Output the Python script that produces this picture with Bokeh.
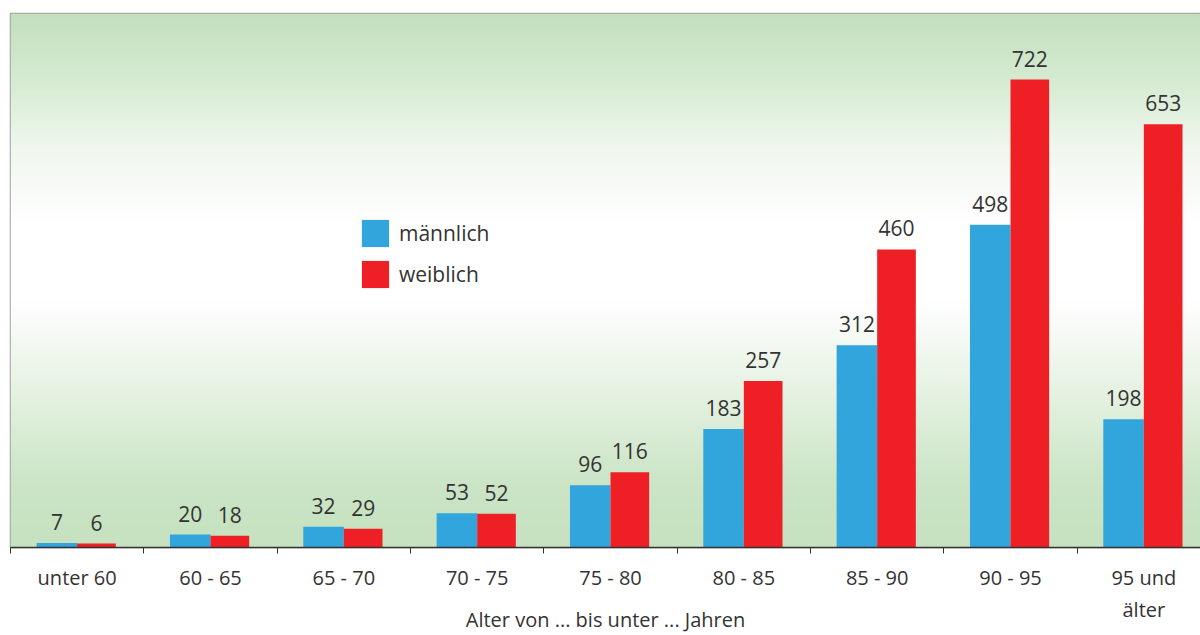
import numpy as np
from bokeh.plotting import figure
from bokeh.models import ColumnDataSource, Range1d, FixedTicker, Legend, LegendItem
from bokeh.core.properties import value
from bokeh.embed import file_html
from bokeh.resources import INLINE

categories = ["unter 60", "60 - 65", "65 - 70", "70 - 75", "75 - 80", "80 - 85", "85 - 90", "90 - 95", "95 und\nälter"]
maennlich = [7, 20, 32, 53, 96, 183, 312, 498, 198]
weiblich = [6, 18, 29, 52, 116, 257, 460, 722, 653]
x_title = "Alter von ... bis unter ... Jahren"

FONT = "Open Sans"
TXT = "#333333"
BLUE = "#31a5dc"
RED = "#ee2025"

YMAX = 824
XMAX = 8.925

p = figure(width=1200, height=635, output_backend="svg", toolbar_location=None,
           x_range=Range1d(0, XMAX), y_range=Range1d(0, YMAX),
           min_border_left=10, min_border_right=0, min_border_top=13, min_border_bottom=88)
p.background_fill_color = "white"
p.border_fill_color = "white"
p.outline_line_color = "#a0a0a0"
p.outline_line_width = 1.5
p.grid.visible = False
p.yaxis.visible = False

# background vertical gradient (screen-fraction based)
H = 534
rows = np.arange(H)  # row 0 = bottom
frac = rows / (H - 1)  # 0 bottom .. 1 top
sf = [0.0, 0.12, 0.24, 0.46, 0.61, 0.75, 0.88, 1.0]
r = [198, 203, 222, 255, 255, 240, 213, 195]
g = [226, 229, 238, 255, 255, 247, 235, 223]
b = [192, 198, 218, 255, 255, 238, 209, 189]
img = np.zeros((H, 1), dtype=np.uint32)
view = img.view(dtype=np.uint8).reshape((H, 1, 4))
view[:, 0, 0] = np.interp(frac, sf, r).astype(np.uint8)
view[:, 0, 1] = np.interp(frac, sf, g).astype(np.uint8)
view[:, 0, 2] = np.interp(frac, sf, b).astype(np.uint8)
view[:, 0, 3] = 255
p.image_rgba(image=[img], x=0, y=0, dw=XMAX, dh=YMAX, level="image")

x = np.arange(len(categories)) + 0.5
src = ColumnDataSource(dict(
    xm=x - 0.152, xw=x + 0.145, m=maennlich, w=weiblich,
    ml=[str(v) for v in maennlich], wl=[str(v) for v in weiblich]))

bm = p.vbar(x="xm", top="m", width=0.304, bottom=0, source=src, fill_color=BLUE, line_color=None)
bw = p.vbar(x="xw", top="w", width=0.29, bottom=0, source=src, fill_color=RED, line_color=None)

for col, top, lab in (("xm", "m", "ml"), ("xw", "w", "wl")):
    p.text(x=col, y=top, text=lab, source=src, text_align="center", text_baseline="alphabetic",
           y_offset=-21, text_font=value(FONT), text_font_size="21px", text_color=TXT)

ax = p.xaxis[0]
ax.ticker = FixedTicker(ticks=list(x), minor_ticks=list(range(len(categories) + 1)))
ax.major_label_overrides = {float(xx): c for xx, c in zip(x, categories)}
ax.major_tick_out = 0
ax.major_tick_in = 0
ax.minor_tick_out = 6
ax.minor_tick_in = 0
ax.minor_tick_line_color = "#333333"
ax.axis_line_color = "#333333"
ax.axis_line_width = 1.5
ax.major_label_text_font = FONT
ax.major_label_text_font_size = "20px"
ax.major_label_text_color = TXT
ax.major_label_standoff = 10
ax.axis_label = x_title
ax.axis_label_text_font = FONT
ax.axis_label_text_font_size = "20px"
ax.axis_label_text_font_style = "normal"
ax.axis_label_text_color = TXT
ax.axis_label_standoff = -20

legend = Legend(items=[LegendItem(label="männlich", renderers=[bm]),
                       LegendItem(label="weiblich", renderers=[bw])],
                location=(348, 256), glyph_width=34, glyph_height=34, spacing=7,
                padding=0, margin=0, label_standoff=7,
                label_text_font=FONT, label_text_font_size="21px", label_text_color=TXT,
                background_fill_alpha=0, border_line_color=None)
p.add_layout(legend, "center")

open("out.html", "w").write(file_html(p, INLINE))
